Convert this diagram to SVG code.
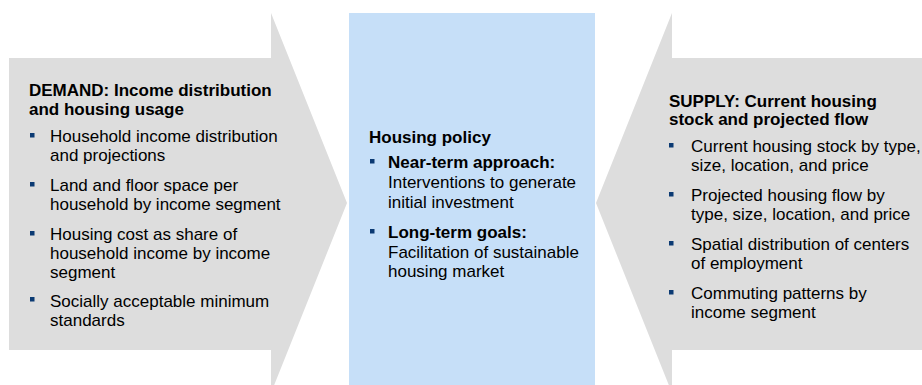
<svg xmlns="http://www.w3.org/2000/svg" width="922" height="385" viewBox="0 0 922 385">
<style>
.shape{fill:#DDDDDD}
.blue{fill:#C6DFF8}
text{font-family:"Liberation Sans",Arial,sans-serif;font-size:17px;fill:#000}
.b{font-weight:bold}
.bul{fill:#0B3A73}
</style>
<rect width="922" height="385" fill="#FFFFFF"/>
<g id="demand">
<polygon class="shape" points="9,58 271,58 271,13 347,203 271,393 271,350 9,350"/>
<text class="b" x="29" y="96">DEMAND: Income distribution</text>
<text class="b" x="29" y="114.5">and housing usage</text>
<rect class="bul" x="30" y="133" width="4.5" height="4.5"/>
<text x="50" y="142">Household income distribution</text>
<text x="50" y="161">and projections</text>
<rect class="bul" x="30" y="182" width="4.5" height="4.5"/>
<text x="50" y="191">Land and floor space per</text>
<text x="50" y="210">household by income segment</text>
<rect class="bul" x="30" y="231" width="4.5" height="4.5"/>
<text x="50" y="240">Housing cost as share of</text>
<text x="50" y="259">household income by income</text>
<text x="50" y="278">segment</text>
<rect class="bul" x="30" y="297" width="4.5" height="4.5"/>
<text x="50" y="307">Socially acceptable minimum</text>
<text x="50" y="326">standards</text>
</g>
<g id="policy">
<rect class="blue" x="349" y="13" width="246" height="380"/>
<text class="b" x="369" y="142.5">Housing policy</text>
<rect class="bul" x="370" y="159" width="4.5" height="4.5"/>
<text class="b" x="388" y="168">Near-term approach:</text>
<text x="388" y="188">Interventions to generate</text>
<text x="388" y="208">initial investment</text>
<rect class="bul" x="370" y="229" width="4.5" height="4.5"/>
<text class="b" x="388" y="238">Long-term goals:</text>
<text x="388" y="258">Facilitation of sustainable</text>
<text x="388" y="277">housing market</text>
</g>
<g id="supply">
<polygon class="shape" points="922,58 672,58 672,13 596,203 672,393 672,350 922,350"/>
<text class="b" x="669" y="107">SUPPLY: Current housing</text>
<text class="b" x="669" y="125">stock and projected flow</text>
<rect class="bul" x="669" y="143" width="4.5" height="4.5"/>
<text x="691" y="152">Current housing stock by type,</text>
<text x="691" y="171">size, location, and price</text>
<rect class="bul" x="669" y="192" width="4.5" height="4.5"/>
<text x="691" y="201">Projected housing flow by</text>
<text x="691" y="220">type, size, location, and price</text>
<rect class="bul" x="669" y="241" width="4.5" height="4.5"/>
<text x="691" y="250">Spatial distribution of centers</text>
<text x="691" y="269">of employment</text>
<rect class="bul" x="669" y="290" width="4.5" height="4.5"/>
<text x="691" y="299">Commuting patterns by</text>
<text x="691" y="318">income segment</text>
</g>
<g id="connectors"/>
</svg>
